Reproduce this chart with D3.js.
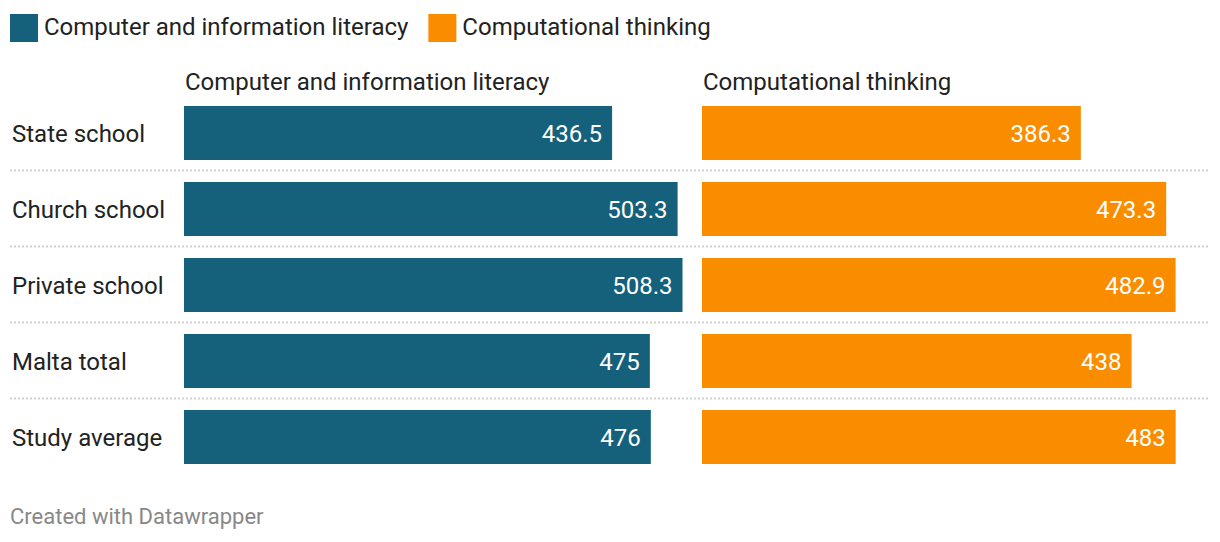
<!DOCTYPE html>
<html><head><meta charset="utf-8">
<script src="https://cdn.jsdelivr.net/npm/d3@7"></script>
<style>body{margin:0;background:#fff;}svg{display:block;font-family:Roboto,sans-serif;}</style>
</head><body>
<svg id="c" width="1220" height="542"></svg>
<script>
const categories = ["State school","Church school","Private school","Malta total","Study average"];
const seriesNames = ["Computer and information literacy","Computational thinking"];
const cilValues = [436.5, 503.3, 508.3, 475, 476];
const ctValues = [386.3, 473.3, 482.9, 438, 483];
const colors = ["#15607a", "#fa8c00"];

const svg = d3.select("#c");
const series = [cilValues, ctValues];

// legend
let lx = 10;
seriesNames.forEach((name, i) => {
  svg.append("rect").attr("x", lx).attr("y", 14).attr("width", 28).attr("height", 28).attr("fill", colors[i]);
  const t = svg.append("text").attr("x", lx + 34).attr("y", 35).attr("font-size", 24).attr("fill", "#222").text(name);
  lx += 34 + t.node().getComputedTextLength() + 20;
});

const step = 76, bh = 54;
const yPos = c => 106 + categories.indexOf(c) * step;

const panelX = [184, 702];
const x = d3.scaleLinear().domain([0, 508.3]).range([0, 498.5]);

// separators
categories.slice(1).forEach(c => {
  svg.append("line").attr("x1", 10).attr("x2", 1208)
    .attr("y1", yPos(c) - 11.5).attr("y2", yPos(c) - 11.5)
    .attr("stroke", "#d0d0d0").attr("stroke-width", 2).attr("stroke-dasharray", "2,2");
});

// row labels
categories.forEach(c => {
  svg.append("text").attr("x", 12).attr("y", yPos(c) + bh/2 + 8.5).attr("font-size", 24).attr("fill", "#222").text(c);
});

series.forEach((vals, i) => {
  const g = svg.append("g").attr("transform", `translate(${panelX[i]},0)`);
  g.append("text").attr("x", 1).attr("y", 90).attr("font-size", 24).attr("fill", "#222").text(seriesNames[i]);
  g.selectAll("rect").data(vals).join("rect")
    .attr("x", 0).attr("y", (d, j) => yPos(categories[j]))
    .attr("width", d => x(d)).attr("height", bh).attr("fill", colors[i]);
  g.selectAll("text.v").data(vals).join("text").attr("class", "v")
    .attr("x", d => x(d) - 10).attr("y", (d, j) => yPos(categories[j]) + bh/2 + 8.5)
    .attr("text-anchor", "end").attr("font-size", 24).attr("fill", "#fff").text(d => d);
});

svg.append("text").attr("x", 10).attr("y", 524).attr("font-size", 22).attr("fill", "#888").text("Created with Datawrapper");
</script>
</body></html>
